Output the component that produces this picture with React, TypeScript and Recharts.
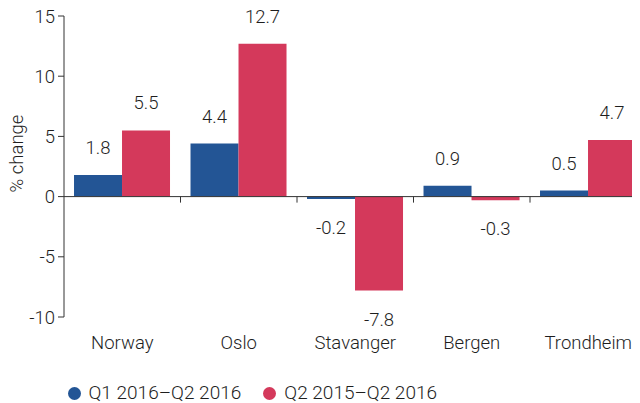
import React from 'react';
import { BarChart, Bar, XAxis, YAxis, ReferenceLine, Legend, LabelList } from 'recharts';

const categories = ['Norway', 'Oslo', 'Stavanger', 'Bergen', 'Trondheim'];
const quarterChange = [1.8, 4.4, -0.2, 0.9, 0.5];
const yearChange = [5.5, 12.7, -7.8, -0.3, 4.7];
const seriesNames = ['Q1 2016–Q2 2016', 'Q2 2015–Q2 2016'];
const seriesColors = ['#235595', '#d4395b'];
const yTicks = [-10, -5, 0, 5, 10, 15];

const data = categories.map((name, i) => ({ name, q: quarterChange[i], y: yearChange[i] }));

const FONT = 'Roboto, "Liberation Sans", Arial, sans-serif';
const WEIGHT = 300;
const TEXT = '#1e1e1e';
const FS = 18.5;

const ValueLabel = (props: any) => {
  const { x, y, width, height, value } = props;
  const top = Math.min(y, y + height);
  const bottom = Math.max(y, y + height);
  const cy = value >= 0 ? top - 27 : bottom + 29;
  return (
    <text x={x + width / 2} y={cy} textAnchor="middle" dominantBaseline="central"
      fontSize={FS} fontFamily={FONT} fontWeight={WEIGHT} fill={TEXT}>
      {value}
    </text>
  );
};

const LegendContent = () => (
  <div style={{ height: 36, position: 'relative', fontFamily: FONT, fontWeight: WEIGHT, fontSize: 19, color: TEXT }}>
    <div style={{ position: 'absolute', top: 17, left: 67.5, display: 'flex', alignItems: 'center', whiteSpace: 'nowrap' }}>
      {seriesNames.map((n, i) => (
        <div key={n} style={{ display: 'flex', alignItems: 'center', marginRight: 22 }}>
          <span style={{ width: 13, height: 13, borderRadius: '50%', background: seriesColors[i], display: 'inline-block', marginRight: 8 }} />
          <span style={{ lineHeight: '18px' }}>{n}</span>
        </div>
      ))}
    </div>
  </div>
);

const YLabel = (props: any) => {
  const vb = props.viewBox || { x: 0, y: 0, width: 0, height: 0 };
  const cx = vb.x + 8.5;
  const cy = vb.y + vb.height / 2 - 13;
  return (
    <text x={cx} y={cy} textAnchor="middle" dominantBaseline="central"
      transform={`rotate(-90, ${cx}, ${cy})`} fontSize={FS} fontFamily={FONT} fontWeight={WEIGHT} fill={TEXT}>
      % change
    </text>
  );
};

export default function App() {
  return (
    <div style={{ margin: '-8px 0 0 -8px', width: 640, height: 403, overflow: 'hidden' }}>
      <BarChart width={668} height={403} data={data}
        margin={{ top: 16, right: 21.5, left: 8, bottom: 0 }}
        barCategoryGap="8.6%" barGap={0}>
        <XAxis dataKey="name" axisLine={false} tickLine={false} tickSize={6} tickMargin={13} height={50}
          tick={{ fontSize: FS, fontFamily: FONT, fontWeight: WEIGHT, fill: TEXT }} interval={0} />
        <YAxis domain={[-10, 15]} ticks={yTicks} width={56} tickSize={6} tickMargin={3}
          axisLine={{ stroke: '#333' }} tickLine={{ stroke: '#333' }}
          tick={{ fontSize: FS, fontFamily: FONT, fontWeight: WEIGHT, fill: TEXT }}
          label={<YLabel />} />
        <Legend verticalAlign="bottom" content={<LegendContent />} wrapperStyle={{ left: 0, width: 640 }} />
        <Bar dataKey="q" name={seriesNames[0]} fill={seriesColors[0]} isAnimationActive={false}>
          <LabelList dataKey="q" content={<ValueLabel />} />
        </Bar>
        <Bar dataKey="y" name={seriesNames[1]} fill={seriesColors[1]} isAnimationActive={false}>
          <LabelList dataKey="y" content={<ValueLabel />} />
        </Bar>
        <ReferenceLine y={0} stroke="#333" strokeWidth={1} />
        {categories.slice(1).map((c) => (
          <ReferenceLine key={c} segment={[{ x: c, y: 0 }, { x: c, y: -0.5 }]} position="start"
            stroke="#333" strokeWidth={1} />
        ))}
      </BarChart>
    </div>
  );
}
